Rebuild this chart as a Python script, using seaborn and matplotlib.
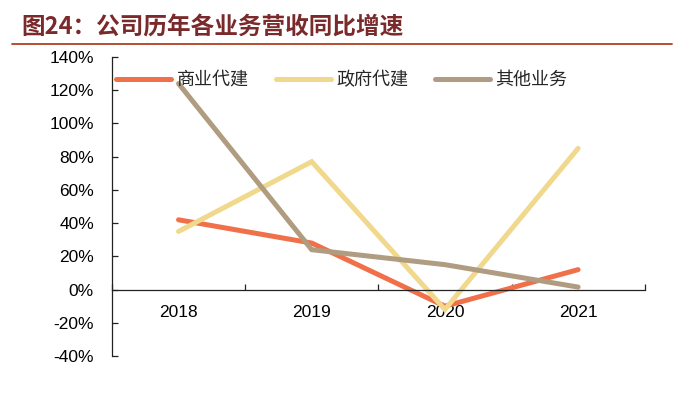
import pandas as pd
import seaborn as sns
import matplotlib.pyplot as plt
from matplotlib.lines import Line2D
from matplotlib.ticker import FuncFormatter

years = ["2018", "2019", "2020", "2021"]
commercial = [42, 28, -10, 12]
government = [35, 77, -12, 85]
other = [124, 24, 15, 1.5]
series_names = ["商业代建", "政府代建", "其他业务"]
colors = ["#F0704A", "#F0D88C", "#B09C80"]

df = pd.DataFrame({
    "year": years * 3,
    "growth": commercial + government + other,
    "series": [s for s in series_names for _ in years],
})

sns.set_theme(style="white")
plt.rcParams["font.family"] = ["Liberation Sans", "Noto Sans CJK SC", "DejaVu Sans"]

fig = plt.figure(figsize=(6.91, 3.95), dpi=100)
ax = fig.add_axes([0.162, 0.0987, 0.771, 0.757])

sns.lineplot(data=df, x="year", y="growth", hue="series", palette=colors,
             linewidth=3.6, ax=ax, legend=False, sort=False)
for ln in ax.lines:
    ln.set_solid_capstyle("round")
    ln.set_solid_joinstyle("miter")

ax.set_ylim(-40, 140)
ax.set_xlim(-0.5, 3.5)
ax.set_yticks(range(-40, 141, 20))
ax.yaxis.set_major_formatter(FuncFormatter(lambda v, p: f"{v:.0f}%"))
ax.set_xlabel("")
ax.set_ylabel("")

for s in ["top", "right"]:
    ax.spines[s].set_visible(False)
ax.spines["left"].set_color("#222222")
ax.spines["left"].set_linewidth(0.9)
ax.spines["bottom"].set_position(("data", 0))
ax.spines["bottom"].set_color("#222222")
ax.spines["bottom"].set_linewidth(0.9)

ax.set_xticks([0, 1, 2, 3])
ax.set_xticklabels(years)
ax.set_xticks([-0.5, 0.5, 1.5, 2.5, 3.5], minor=True)
ax.tick_params(axis="x", which="major", length=0, pad=11, labelsize=12.5, labelcolor="#000000")
ax.tick_params(axis="x", which="minor", direction="in", length=4, width=0.9, color="#222222", bottom=True)
ax.tick_params(axis="y", direction="in", length=4, width=0.9, color="#222222", left=True,
               labelsize=12.5, pad=13, labelcolor="#000000")

handles = [Line2D([], [], color=c, linewidth=3.6, solid_capstyle="round") for c in colors]
fig.legend(handles, series_names, ncol=3, frameon=False, loc="center left",
           bbox_to_anchor=(116 / 691, 1 - 80 / 395), bbox_transform=fig.transFigure,
           borderpad=0, borderaxespad=0, handlelength=3.05, handletextpad=0.3,
           columnspacing=1.5, prop={"family": ["Noto Sans CJK SC"], "size": 13})

fig.text(0.031, 0.93, "图24：公司历年各业务营收同比增速", color="#7A2A2A", va="center",
         fontsize=17, fontweight="bold", family=["Noto Sans CJK SC"])
fig.add_artist(Line2D([0.017, 0.973], [0.888, 0.888], color="#B0401F", linewidth=1.3))

fig.savefig("out.png", dpi=100)
